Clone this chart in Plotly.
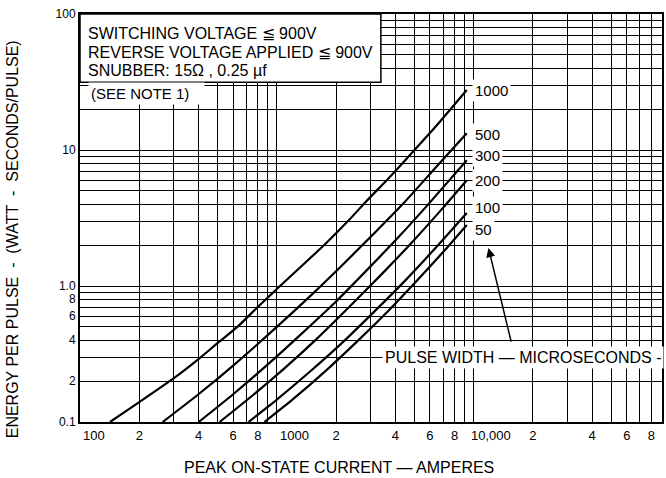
import math
import plotly.graph_objects as go

# ---- data ----
pulse_widths = ["1000", "500", "300", "200", "100", "50"]

c1000_x = [142, 200, 300, 400, 500, 630, 800, 1000, 1350, 1800, 2300, 2850, 3700, 4850, 6400, 9230]
c1000_y = [0.1, 0.14, 0.21, 0.29, 0.38, 0.5, 0.7, 0.95, 1.42, 2.1, 3.0, 4.2, 6.2, 9.5, 14.8, 27.6]

c500_x = [263, 400, 600, 1000, 1500, 2200, 3200, 4500, 6500, 9230]
c500_y = [0.1, 0.16, 0.26, 0.5, 0.86, 1.47, 2.53, 4.2, 7.6, 13.3]

c300_x = [401, 600, 900, 1300, 2000, 3000, 4200, 6000, 9230]
c300_y = [0.1, 0.16, 0.265, 0.43, 0.77, 1.4, 2.33, 4.12, 8.4]

c200_x = [512, 750, 1100, 1600, 2400, 3500, 5000, 7000, 9230]
c200_y = [0.1, 0.156, 0.25, 0.41, 0.73, 1.27, 2.19, 3.77, 6.0]

c100_x = [718, 1000, 1500, 2200, 3200, 4500, 6500, 9230]
c100_y = [0.1, 0.146, 0.24, 0.395, 0.67, 1.10, 1.95, 3.44]

c50_x = [865, 1200, 1800, 2600, 3700, 5200, 7200, 9230]
c50_y = [0.1, 0.146, 0.243, 0.40, 0.66, 1.11, 1.86, 2.81]

label_x = 9770
label_y = [27.2, 13.1, 9.18, 5.92, 3.75, 2.62]

x_grid = [m * 10 ** e for e in (2, 3, 4) for m in range(1, 10)]
x_ticktext = ["", "2", "", "4", "", "6", "", "8", "",
              "", "2", "", "4", "", "6", "", "8", "",
              "", "2", "", "4", "", "6", "", "8", ""]
x_decade_vals = [100, 1000, 10000]
x_decade_text = ["100", "1000", "10,000"]

y_grid = [round(m * 10 ** e, 3) for e in (-1, 0, 1) for m in range(1, 10)] + [100]
y_ticktext = ["0.1", "2", "", "4", "", "6", "", "8", "",
              "1.0", "", "", "", "", "", "", "", "",
              "10", "", "", "", "", "", "", "", "",
              "100"]

box_lines = ["SWITCHING VOLTAGE \u2266 900V",
             "REVERSE VOLTAGE APPLIED \u2266 900V",
             "SNUBBER: 15\u03a9 , 0.25 \u00b5f"]

FONT = "Liberation Sans, Arial, Helvetica, sans-serif"
series = [(c1000_x, c1000_y), (c500_x, c500_y), (c300_x, c300_y),
          (c200_x, c200_y), (c100_x, c100_y), (c50_x, c50_y)]

fig = go.Figure()
for (xs, ys), name in zip(series, pulse_widths):
    fig.add_trace(go.Scatter(x=xs, y=ys, mode="lines", name=name,
                             line=dict(color="black", width=2.2, shape="spline", smoothing=0.6),
                             showlegend=False, hoverinfo="skip"))

annotations = []
for name, ly in zip(pulse_widths, label_y):
    annotations.append(dict(x=math.log10(label_x), y=math.log10(ly), xref="x", yref="y",
                            text=name, showarrow=False, xanchor="left", yanchor="middle",
                            bgcolor="white", borderpad=2, font=dict(size=15, color="black")))

for v, t in zip(x_decade_vals, x_decade_text):
    annotations.append(dict(x=math.log10(v), y=0, xref="x", yref="paper", text=t,
                            showarrow=False, xanchor="left", yanchor="top", yshift=-4,
                            xshift=1 if v < 10000 else -5, font=dict(size=13, color="black")))

line_y = [0.953, 0.905, 0.862]
for t, yy in zip(box_lines, line_y):
    annotations.append(dict(x=0.011, y=yy, xref="paper", yref="paper", text=t,
                            showarrow=False, xanchor="left", yanchor="middle",
                            font=dict(size=16, color="black")))

annotations.append(dict(x=0.013, y=1.412, xref="paper", yref="y", text="(SEE NOTE 1)\u00a0\u00a0\u00a0",
                        showarrow=False, xanchor="left", yanchor="middle", bgcolor="white",
                        borderpad=2, font=dict(size=15, color="black")))

annotations.append(dict(x=3.534, y=math.log10(0.3), xref="x", yref="y",
                        text="PULSE WIDTH \u2014 MICROSECONDS -", showarrow=False,
                        xanchor="left", yanchor="middle", bgcolor="white", borderpad=2,
                        font=dict(size=16, color="black")))

annotations.append(dict(x=math.log10(11900), y=math.log10(1.9), xref="x", yref="y", text="",
                        showarrow=True, arrowhead=2, arrowsize=1.2, arrowwidth=1.5,
                        arrowcolor="black", ax=23, ay=95))

annotations.append(dict(x=-0.116, y=0.449, xref="paper", yref="paper",
                        text="ENERGY PER PULSE\u00a0\u00a0-\u00a0\u00a0(WATT\u00a0\u00a0-\u00a0\u00a0SECONDS/PULSE)",
                        textangle=-90, showarrow=False, xanchor="center", yanchor="middle",
                        font=dict(size=16, color="black")))

annotations.append(dict(x=(340 - 80) / 584, y=-(467 - 422) / 408, xref="paper", yref="paper",
                        text="PEAK ON-STATE CURRENT \u2014 AMPERES", showarrow=False,
                        xanchor="center", yanchor="middle", font=dict(size=16, color="black")))

shapes = [dict(type="rect", xref="paper", yref="paper", x0=0, x1=0.517, y0=0.833, y1=1,
               fillcolor="white", line=dict(color="black", width=1.5), layer="above")]

fig.update_layout(
    width=666, height=478,
    margin=dict(l=80, r=2, t=14, b=56),
    paper_bgcolor="white", plot_bgcolor="white",
    font=dict(family=FONT, color="black"),
    annotations=annotations, shapes=shapes,
    xaxis=dict(type="log", range=[2, 4.957], tickmode="array", tickvals=x_grid, ticktext=x_ticktext,
               showgrid=True, gridcolor="black", gridwidth=1.4, showline=True, linecolor="black",
               linewidth=2, mirror=True, ticks="", zeroline=False, tickfont=dict(size=13)),
    yaxis=dict(type="log", range=[-1, 2], tickmode="array", tickvals=y_grid, ticktext=y_ticktext,
               showgrid=True, gridcolor="black", gridwidth=1.4, showline=True, linecolor="black",
               linewidth=2, mirror=True, ticks="", zeroline=False, tickfont=dict(size=12)),
)

fig.write_html("out.html", config={"displayModeBar": False},
               post_script="document.body.style.margin='0';document.body.style.overflow='hidden';")
